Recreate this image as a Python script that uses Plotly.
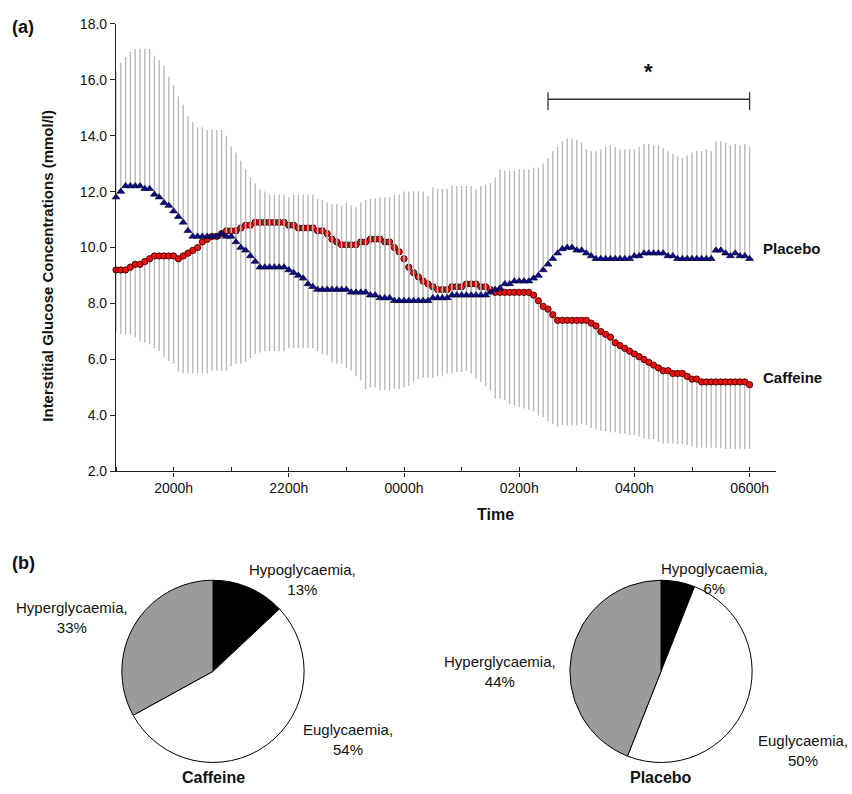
import plotly.graph_objects as go

# ---------------- data (5-min samples, 1900h -> 0600h) ----------------
placebo_mean = [
    11.8, 12.0, 12.2, 12.2, 12.2, 12.2, 12.1, 12.1, 11.9, 11.8,   # 0-9
    11.6, 11.5, 11.3, 11.1, 10.9, 10.6, 10.4, 10.4, 10.4, 10.4,   # 10-19
    10.4, 10.4, 10.5, 10.4, 10.4, 10.2, 10.0, 9.9, 9.7, 9.5,      # 20-29
    9.3, 9.3, 9.3, 9.3, 9.3, 9.3, 9.2, 9.1, 9.0, 8.9,             # 30-39
    8.7, 8.6, 8.5, 8.5, 8.5, 8.5, 8.5, 8.5, 8.5, 8.4,             # 40-49
    8.4, 8.4, 8.4, 8.3, 8.3, 8.2, 8.2, 8.2, 8.1, 8.1,             # 50-59
    8.1, 8.1, 8.1, 8.1, 8.1, 8.1, 8.2, 8.2, 8.2, 8.2,             # 60-69
    8.3, 8.3, 8.3, 8.3, 8.3, 8.3, 8.3, 8.3, 8.4, 8.5,             # 70-79
    8.55, 8.7, 8.7, 8.8, 8.8, 8.8, 8.8, 8.9, 9.0, 9.2,            # 80-89
    9.4, 9.6, 9.8, 9.95, 10.0, 10.0, 9.9, 9.9, 9.8, 9.7,          # 90-99
    9.6, 9.6, 9.6, 9.6, 9.6, 9.6, 9.6, 9.6, 9.7, 9.7,             # 100-109
    9.8, 9.8, 9.8, 9.8, 9.8, 9.7, 9.7, 9.6, 9.6, 9.6,             # 110-119
    9.6, 9.6, 9.6, 9.6, 9.6, 9.9, 9.9, 9.8, 9.7, 9.8,             # 120-129
    9.7, 9.7, 9.6,                                                # 130-132
]
placebo_upper = [
    16.3, 16.6, 16.8, 17.0, 17.1, 17.1, 17.1, 17.1, 16.85, 16.7,
    16.5, 16.1, 15.8, 15.4, 15.1, 14.7, 14.5, 14.3, 14.3, 14.2,
    14.2, 14.2, 14.2, 14.0, 13.6, 13.4, 13.1, 12.8, 12.5, 12.3,
    12.1, 12.0, 11.9, 11.9, 11.9, 11.9, 11.8, 11.9, 11.9, 11.9,
    11.9, 11.9, 11.75, 11.7, 11.6, 11.55, 11.55, 11.5, 11.6, 11.5,
    11.45, 11.6, 11.7, 11.75, 11.75, 11.8, 11.8, 11.8, 11.9, 11.9,
    12.0, 12.0, 12.0, 12.0, 12.0, 11.85, 12.15, 12.1, 12.1, 12.1,
    12.2, 12.2, 12.2, 12.2, 12.2, 12.1, 12.2, 12.25, 12.3, 12.5,
    12.8, 12.75, 12.75, 12.75, 12.8, 12.8, 12.8, 12.85, 12.85, 13.0,
    13.2, 13.45, 13.6, 13.8, 13.9, 13.9, 13.85, 13.75, 13.5, 13.45,
    13.45, 13.5, 13.6, 13.65, 13.6, 13.5, 13.5, 13.5, 13.5, 13.6,
    13.7, 13.7, 13.65, 13.65, 13.55, 13.45, 13.35, 13.25, 13.2, 13.3,
    13.4, 13.45, 13.45, 13.5, 13.45, 13.8, 13.8, 13.75, 13.65, 13.7,
    13.65, 13.7, 13.6,
]
caffeine_mean = [
    9.2, 9.2, 9.2, 9.3, 9.4, 9.4, 9.5, 9.6, 9.7, 9.7,
    9.7, 9.7, 9.7, 9.6, 9.7, 9.8, 9.9, 10.0, 10.2, 10.3,
    10.4, 10.4, 10.5, 10.6, 10.6, 10.6, 10.7, 10.8, 10.8, 10.9,
    10.9, 10.9, 10.9, 10.9, 10.9, 10.9, 10.8, 10.8, 10.7, 10.7,
    10.7, 10.7, 10.6, 10.6, 10.5, 10.3, 10.2, 10.1, 10.1, 10.1,
    10.1, 10.2, 10.2, 10.3, 10.3, 10.3, 10.2, 10.2, 10.0, 9.85,
    9.6, 9.3, 9.1, 8.95, 8.8, 8.7, 8.6, 8.5, 8.5, 8.5,
    8.6, 8.6, 8.6, 8.7, 8.7, 8.7, 8.6, 8.6, 8.5, 8.4,
    8.4, 8.4, 8.4, 8.4, 8.4, 8.4, 8.4, 8.3, 8.1, 7.9,
    7.8, 7.6, 7.4, 7.4, 7.4, 7.4, 7.4, 7.4, 7.4, 7.3,
    7.2, 7.0, 6.9, 6.8, 6.6, 6.5, 6.4, 6.3, 6.2, 6.1,
    6.0, 5.9, 5.8, 5.7, 5.6, 5.6, 5.5, 5.5, 5.5, 5.4,
    5.3, 5.3, 5.2, 5.2, 5.2, 5.2, 5.2, 5.2, 5.2, 5.2,
    5.2, 5.2, 5.1,
]
caffeine_lower = [
    7.0, 6.9, 6.9, 6.9, 6.8, 6.65, 6.6, 6.55, 6.4, 6.3,
    6.1, 5.95, 5.85, 5.55, 5.5, 5.5, 5.5, 5.5, 5.5, 5.5,
    5.6, 5.6, 5.6, 5.6, 5.75, 5.85, 5.85, 5.9, 6.05, 6.2,
    6.25, 6.3, 6.3, 6.3, 6.3, 6.3, 6.4, 6.4, 6.4, 6.4,
    6.4, 6.4, 6.3, 6.2, 6.15, 5.9, 5.85, 5.85, 5.7, 5.6,
    5.4, 5.25, 4.95, 5.0, 5.0, 4.9, 4.9, 4.9, 4.95, 4.95,
    5.0, 5.05, 5.2, 5.3, 5.35, 5.35, 5.35, 5.4, 5.4, 5.5,
    5.5, 5.55, 5.55, 5.6, 5.5, 5.3, 5.2, 5.05, 4.9, 4.6,
    4.6, 4.55, 4.4, 4.35, 4.3, 4.25, 4.2, 4.15, 4.0, 3.95,
    3.8, 3.7, 3.6, 3.65, 3.65, 3.65, 3.65, 3.7, 3.65, 3.55,
    3.5, 3.45, 3.45, 3.4, 3.4, 3.35, 3.35, 3.3, 3.3, 3.25,
    3.2, 3.15, 3.15, 3.05, 3.0, 3.0, 3.0, 2.97, 2.97, 2.95,
    2.9, 2.85, 2.85, 2.85, 2.85, 2.85, 2.85, 2.8, 2.8, 2.8,
    2.8, 2.8, 2.8,
]

tick_positions = [0, 12, 24, 36, 48, 60, 72, 84, 96, 108, 120, 132]
tick_labels = ["", "2000h", "", "2200h", "", "0000h", "", "0200h", "", "0400h", "", "0600h"]

pie_labels = ["Hypoglycaemia", "Euglycaemia", "Hyperglycaemia"]
caffeine_pct = [13, 54, 33]
placebo_pct = [6, 50, 44]
pie_colors = ["#000000", "#ffffff", "#9b9b9b"]

sig_start, sig_end, sig_y = 90, 132, 15.3

# ---------------- figure ----------------
W, H = 852, 794
FONT = "Liberation Sans, Arial, Helvetica, sans-serif"
n = len(placebo_mean)
x = list(range(n))

def px(v):
    return v / W

def py(v):
    return 1 - v / H

fig = go.Figure()

fig.add_trace(go.Scatter(
    x=x, y=caffeine_mean, mode="markers", name="Caffeine", cliponaxis=False,
    marker=dict(symbol="circle", size=6.3, color="#f01010",
                line=dict(color="#3a0000", width=0.9)),
    error_y=dict(type="data", symmetric=False,
                 array=[0] * n,
                 arrayminus=[m - l for m, l in zip(caffeine_mean, caffeine_lower)],
                 color="#bababa", thickness=1.4, width=0),
))
fig.add_trace(go.Scatter(
    x=x, y=placebo_mean, mode="markers", name="Placebo", cliponaxis=False,
    marker=dict(symbol="triangle-up", size=7, color="#0c0c8a",
                line=dict(color="#000020", width=0.6)),
    error_y=dict(type="data", symmetric=False,
                 array=[u - m for u, m in zip(placebo_upper, placebo_mean)],
                 arrayminus=[0] * n,
                 color="#bababa", thickness=1.4, width=0),
))

for vals, x0, x1 in [(caffeine_pct, 120, 306), (placebo_pct, 568, 754)]:
    fig.add_trace(go.Pie(
        labels=pie_labels, values=vals, sort=False, direction="clockwise",
        rotation=0, textinfo="none", hoverinfo="label+percent",
        marker=dict(colors=pie_colors, line=dict(color="#000000", width=1)),
        domain=dict(x=[px(x0), px(x1)], y=[py(770), py(584)]),
        showlegend=False,
    ))

# significance bracket
line_style = dict(color="#333333", width=1.3)
fig.add_shape(type="line", xref="x", yref="y", x0=sig_start, x1=sig_end,
              y0=sig_y, y1=sig_y, line=line_style)
for xx in (sig_start, sig_end):
    fig.add_shape(type="line", xref="x", yref="y", x0=xx, x1=xx,
                  y0=sig_y - 0.38, y1=sig_y + 0.25, line=line_style)

ann = []
def add_text(text, x0, y0, size, xanchor="center", yanchor="middle", angle=0):
    ann.append(dict(text=text, x=x0, y=y0, xref="paper", yref="paper",
                    xanchor=xanchor, yanchor=yanchor, showarrow=False, textangle=angle,
                    font=dict(family=FONT, size=size, color="#111111")))

ann.append(dict(text="<b>*</b>", x=(sig_start + sig_end) / 2, y=16.3, xref="x", yref="y",
                showarrow=False, font=dict(family=FONT, size=22, color="#111111")))

add_text("<b>(a)</b>", px(10), py(19), 18, xanchor="left")
add_text("<b>(b)</b>", px(10), py(566), 18, xanchor="left")
add_text("<b>Interstitial Glucose Concentrations (mmol/l)</b>", px(48), py(263), 15, angle=-90)
add_text("<b>Time</b>", px(495), py(517), 16)
add_text("<b>Placebo</b>", px(761), py(245), 15, xanchor="left")
add_text("<b>Caffeine</b>", px(761), py(377), 15, xanchor="left")

# pie labels
add_text("Hypoglycaemia,<br>%d%%" % caffeine_pct[0], px(302), py(583), 15)
add_text("Hyperglycaemia,<br>%d%%" % caffeine_pct[2], px(72), py(622), 15)
add_text("Euglycaemia,<br>%d%%" % caffeine_pct[1], px(348), py(747), 15)
add_text("<b>Caffeine</b>", px(213), py(785), 16)

add_text("Hypoglycaemia,<br>%d%%" % placebo_pct[0], px(714), py(582), 15)
add_text("Hyperglycaemia,<br>%d%%" % placebo_pct[2], px(500), py(677), 15)
add_text("Euglycaemia,<br>%d%%" % placebo_pct[1], px(756), py(758), 15, xanchor="left")
add_text("<b>Placebo</b>", px(661), py(785), 16)

fig.update_layout(
    width=W, height=H,
    margin=dict(l=0, r=0, t=0, b=0),
    paper_bgcolor="white", plot_bgcolor="white",
    showlegend=False,
    font=dict(family=FONT, size=14, color="#111111"),
    annotations=ann,
    xaxis=dict(domain=[px(116), px(776)], range=[0, 137.5],
               tickmode="array", tickvals=tick_positions, ticktext=tick_labels,
               ticks="outside", ticklen=4, tickwidth=1.2, tickcolor="#222",
               minor=dict(tickmode="array", tickvals=tick_positions, ticks="inside",
                          ticklen=4, tickwidth=1.2, tickcolor="#222", showgrid=False),
               showline=True, linecolor="#222", linewidth=1.2,
               showgrid=False, zeroline=False,
               tickfont=dict(family=FONT, size=14, color="#111111")),
    yaxis=dict(domain=[py(473), py(16)], range=[2, 18], dtick=2, tick0=2,
               tickformat=".1f",
               ticks="outside", ticklen=5, tickwidth=1.2, tickcolor="#222",
               showline=True, linecolor="#222", linewidth=1.2,
               showgrid=False, zeroline=False,
               tickfont=dict(family=FONT, size=14, color="#111111")),
)

fig.write_html("out.html", config={"displayModeBar": False},
               post_script="document.body.style.margin='0';document.body.style.overflow='hidden';")
